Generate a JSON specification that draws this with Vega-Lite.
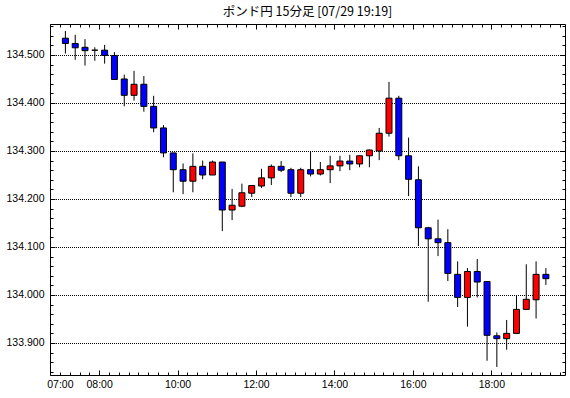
{
  "$schema": "https://vega.github.io/schema/vega-lite/v6.json",
  "width": 515,
  "height": 351,
  "autosize": "none",
  "padding": {"left": 50, "top": 24, "right": 5, "bottom": 23},
  "background": "white",
  "title": {"text": "ポンド円 15分足 [07/29 19:19]", "font": "Noto Sans CJK JP", "fontSize": 12.5, "fontWeight": "normal", "color": "black", "anchor": "middle", "offset": 5},
  "config": {
    "view": {"stroke": "black", "strokeWidth": 1},
    "axis": {"title": null, "labelFont": "Liberation Sans", "labelFontSize": 10.5, "labelColor": "black", "tickColor": "black", "domain": false, "grid": false}
  },
  "data": {"values": [
    {"t": "2024-07-29T07:00", "open": 134.535, "high": 134.550, "low": 134.503, "close": 134.524},
    {"t": "2024-07-29T07:15", "open": 134.524, "high": 134.542, "low": 134.490, "close": 134.515},
    {"t": "2024-07-29T07:30", "open": 134.516, "high": 134.533, "low": 134.478, "close": 134.509},
    {"t": "2024-07-29T07:45", "open": 134.510, "high": 134.516, "low": 134.488, "close": 134.510},
    {"t": "2024-07-29T08:00", "open": 134.510, "high": 134.521, "low": 134.482, "close": 134.499},
    {"t": "2024-07-29T08:15", "open": 134.499, "high": 134.506, "low": 134.449, "close": 134.449},
    {"t": "2024-07-29T08:30", "open": 134.450, "high": 134.459, "low": 134.393, "close": 134.416},
    {"t": "2024-07-29T08:45", "open": 134.416, "high": 134.467, "low": 134.405, "close": 134.439},
    {"t": "2024-07-29T09:00", "open": 134.439, "high": 134.456, "low": 134.382, "close": 134.393},
    {"t": "2024-07-29T09:15", "open": 134.393, "high": 134.415, "low": 134.339, "close": 134.348},
    {"t": "2024-07-29T09:30", "open": 134.348, "high": 134.354, "low": 134.287, "close": 134.296},
    {"t": "2024-07-29T09:45", "open": 134.296, "high": 134.296, "low": 134.214, "close": 134.261},
    {"t": "2024-07-29T10:00", "open": 134.261, "high": 134.274, "low": 134.210, "close": 134.237},
    {"t": "2024-07-29T10:15", "open": 134.237, "high": 134.295, "low": 134.214, "close": 134.268},
    {"t": "2024-07-29T10:30", "open": 134.268, "high": 134.280, "low": 134.241, "close": 134.250},
    {"t": "2024-07-29T10:45", "open": 134.250, "high": 134.280, "low": 134.250, "close": 134.277},
    {"t": "2024-07-29T11:00", "open": 134.277, "high": 134.277, "low": 134.133, "close": 134.177},
    {"t": "2024-07-29T11:15", "open": 134.177, "high": 134.221, "low": 134.156, "close": 134.187},
    {"t": "2024-07-29T11:30", "open": 134.185, "high": 134.232, "low": 134.183, "close": 134.213},
    {"t": "2024-07-29T11:45", "open": 134.212, "high": 134.229, "low": 134.204, "close": 134.228},
    {"t": "2024-07-29T12:00", "open": 134.227, "high": 134.263, "low": 134.223, "close": 134.244},
    {"t": "2024-07-29T12:15", "open": 134.244, "high": 134.272, "low": 134.229, "close": 134.268},
    {"t": "2024-07-29T12:30", "open": 134.268, "high": 134.279, "low": 134.256, "close": 134.260},
    {"t": "2024-07-29T12:45", "open": 134.261, "high": 134.265, "low": 134.204, "close": 134.212},
    {"t": "2024-07-29T13:00", "open": 134.212, "high": 134.265, "low": 134.204, "close": 134.261},
    {"t": "2024-07-29T13:15", "open": 134.261, "high": 134.300, "low": 134.247, "close": 134.252},
    {"t": "2024-07-29T13:30", "open": 134.252, "high": 134.277, "low": 134.249, "close": 134.261},
    {"t": "2024-07-29T13:45", "open": 134.261, "high": 134.290, "low": 134.233, "close": 134.269},
    {"t": "2024-07-29T14:00", "open": 134.269, "high": 134.290, "low": 134.258, "close": 134.279},
    {"t": "2024-07-29T14:15", "open": 134.279, "high": 134.292, "low": 134.260, "close": 134.273},
    {"t": "2024-07-29T14:30", "open": 134.273, "high": 134.290, "low": 134.266, "close": 134.290},
    {"t": "2024-07-29T14:45", "open": 134.290, "high": 134.303, "low": 134.266, "close": 134.302},
    {"t": "2024-07-29T15:00", "open": 134.300, "high": 134.348, "low": 134.281, "close": 134.337},
    {"t": "2024-07-29T15:15", "open": 134.337, "high": 134.444, "low": 134.330, "close": 134.410},
    {"t": "2024-07-29T15:30", "open": 134.410, "high": 134.415, "low": 134.281, "close": 134.290},
    {"t": "2024-07-29T15:45", "open": 134.290, "high": 134.328, "low": 134.206, "close": 134.241},
    {"t": "2024-07-29T16:00", "open": 134.240, "high": 134.268, "low": 134.102, "close": 134.140},
    {"t": "2024-07-29T16:15", "open": 134.140, "high": 134.142, "low": 133.986, "close": 134.117},
    {"t": "2024-07-29T16:30", "open": 134.117, "high": 134.157, "low": 134.081, "close": 134.109},
    {"t": "2024-07-29T16:45", "open": 134.109, "high": 134.137, "low": 134.029, "close": 134.045},
    {"t": "2024-07-29T17:00", "open": 134.043, "high": 134.070, "low": 133.975, "close": 133.995},
    {"t": "2024-07-29T17:15", "open": 133.995, "high": 134.056, "low": 133.934, "close": 134.049},
    {"t": "2024-07-29T17:30", "open": 134.049, "high": 134.075, "low": 133.995, "close": 134.027},
    {"t": "2024-07-29T17:45", "open": 134.028, "high": 134.029, "low": 133.863, "close": 133.916},
    {"t": "2024-07-29T18:00", "open": 133.915, "high": 133.922, "low": 133.850, "close": 133.909},
    {"t": "2024-07-29T18:15", "open": 133.909, "high": 133.948, "low": 133.886, "close": 133.920},
    {"t": "2024-07-29T18:30", "open": 133.920, "high": 134.000, "low": 133.920, "close": 133.970},
    {"t": "2024-07-29T18:45", "open": 133.970, "high": 134.064, "low": 133.970, "close": 133.991},
    {"t": "2024-07-29T19:00", "open": 133.990, "high": 134.070, "low": 133.951, "close": 134.043},
    {"t": "2024-07-29T19:15", "open": 134.043, "high": 134.056, "low": 134.021, "close": 134.034}
  ]},
  "resolve": {"axis": {"x": "independent", "y": "independent"}},
  "layer": [
    {
      "mark": {"type": "rule", "color": "black", "strokeWidth": 1, "xOffset": 5.5},
      "encoding": {
        "x": {"field": "t", "type": "temporal",
          "scale": {"domain": [{"year": 2024, "month": 7, "date": 29, "hours": 6, "minutes": 52, "seconds": 30}, {"year": 2024, "month": 7, "date": 29, "hours": 19, "minutes": 45}], "nice": false},
          "axis": {"orient": "bottom", "ticks": false, "tickSize": 0, "labelPadding": 4, "format": "%H:%M", "labelFlush": false, "labelOverlap": false,
            "values": [
              {"year": 2024, "month": 7, "date": 29, "hours": 7},
              {"year": 2024, "month": 7, "date": 29, "hours": 8},
              {"year": 2024, "month": 7, "date": 29, "hours": 10},
              {"year": 2024, "month": 7, "date": 29, "hours": 12},
              {"year": 2024, "month": 7, "date": 29, "hours": 14},
              {"year": 2024, "month": 7, "date": 29, "hours": 16},
              {"year": 2024, "month": 7, "date": 29, "hours": 18}
            ]}},
        "y": {"field": "low", "type": "quantitative",
          "scale": {"domain": [133.8333125, 134.5645625], "nice": false, "zero": false},
          "axis": {"orient": "left", "ticks": false, "tickSize": 0, "labelPadding": 6, "format": ".3f", "labelFlush": false, "labelOverlap": false,
            "grid": true, "gridColor": "black", "gridDash": [1, 1], "gridDashOffset": 0.5, "gridOpacity": 1, "gridWidth": 1,
            "values": [133.9, 134.0, 134.1, 134.2, 134.3, 134.4, 134.5]}},
        "y2": {"field": "high"}
      }
    },
    {
      "mark": {"type": "bar", "width": 6, "xOffset": 5.5, "stroke": "black", "strokeWidth": 1},
      "encoding": {
        "x": {"field": "t", "type": "temporal",
          "axis": {"orient": "bottom", "offset": -3, "tickSize": 3, "labels": false, "tickCount": 52}},
        "y": {"field": "open", "type": "quantitative",
          "axis": {"orient": "left", "offset": -3, "tickSize": 3, "labels": false,
            "values": [133.84, 133.86, 133.88, 133.9, 133.92, 133.94, 133.96, 133.98, 134.0, 134.02, 134.04, 134.06, 134.08, 134.1, 134.12, 134.14, 134.16, 134.18, 134.2, 134.22, 134.24, 134.26, 134.28, 134.3, 134.32, 134.34, 134.36, 134.38, 134.4, 134.42, 134.44, 134.46, 134.48, 134.5, 134.52, 134.54, 134.56]}},
        "y2": {"field": "close"},
        "color": {"condition": {"test": "datum.close > datum.open", "value": "#ff0000"}, "value": "#0000ff"}
      }
    },
    {
      "mark": {"type": "rule", "opacity": 0},
      "encoding": {
        "x": {"field": "t", "type": "temporal",
          "axis": {"orient": "bottom", "offset": -5, "tickSize": 5, "labels": false,
            "values": [
              {"year": 2024, "month": 7, "date": 29, "hours": 8},
              {"year": 2024, "month": 7, "date": 29, "hours": 10},
              {"year": 2024, "month": 7, "date": 29, "hours": 12},
              {"year": 2024, "month": 7, "date": 29, "hours": 14},
              {"year": 2024, "month": 7, "date": 29, "hours": 16},
              {"year": 2024, "month": 7, "date": 29, "hours": 18}
            ]}},
        "y": {"field": "low", "type": "quantitative",
          "axis": {"orient": "right", "offset": -3, "tickSize": 3, "labels": false,
            "values": [133.84, 133.86, 133.88, 133.9, 133.92, 133.94, 133.96, 133.98, 134.0, 134.02, 134.04, 134.06, 134.08, 134.1, 134.12, 134.14, 134.16, 134.18, 134.2, 134.22, 134.24, 134.26, 134.28, 134.3, 134.32, 134.34, 134.36, 134.38, 134.4, 134.42, 134.44, 134.46, 134.48, 134.5, 134.52, 134.54, 134.56]}},
        "y2": {"field": "high"}
      }
    },
    {
      "mark": {"type": "rule", "opacity": 0},
      "encoding": {
        "x": {"field": "t", "type": "temporal",
          "axis": {"orient": "top", "offset": -3, "tickSize": 3, "labels": false, "tickCount": 52}},
        "y": {"field": "low", "type": "quantitative",
          "axis": {"orient": "left", "offset": -5, "tickSize": 5, "labels": false,
            "values": [133.9, 134.0, 134.1, 134.2, 134.3, 134.4, 134.5]}},
        "y2": {"field": "high"}
      }
    },
    {
      "mark": {"type": "rule", "opacity": 0},
      "encoding": {
        "x": {"field": "t", "type": "temporal",
          "axis": {"orient": "top", "offset": -5, "tickSize": 5, "labels": false,
            "values": [
              {"year": 2024, "month": 7, "date": 29, "hours": 8},
              {"year": 2024, "month": 7, "date": 29, "hours": 10},
              {"year": 2024, "month": 7, "date": 29, "hours": 12},
              {"year": 2024, "month": 7, "date": 29, "hours": 14},
              {"year": 2024, "month": 7, "date": 29, "hours": 16},
              {"year": 2024, "month": 7, "date": 29, "hours": 18}
            ]}},
        "y": {"field": "low", "type": "quantitative",
          "axis": {"orient": "right", "offset": -5, "tickSize": 5, "labels": false,
            "values": [133.9, 134.0, 134.1, 134.2, 134.3, 134.4, 134.5]}},
        "y2": {"field": "high"}
      }
    }
  ]
}
